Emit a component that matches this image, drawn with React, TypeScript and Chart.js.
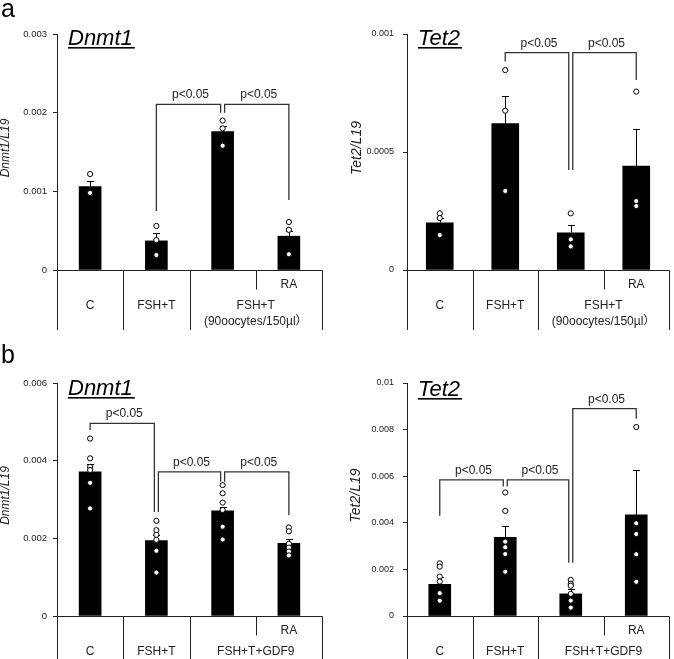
import React, { useEffect, useRef } from 'react';
import { Chart, registerables } from 'chart.js';

Chart.register(...registerables);
Chart.defaults.font.family = '"Liberation Sans", Arial, sans-serif';

// ---------- data ----------
const categoriesA = ['C', 'FSH+T', 'FSH+T (90oocytes/150µl)', 'RA'];
const categoriesB = ['C', 'FSH+T', 'FSH+T+GDF9', 'RA'];
const groupLabelA = ['FSH+T', '(90oocytes/150µl）'];
const groupLabelB = ['FSH+T+GDF9'];
const pLabel = 'p<0.05';

// a – Dnmt1
const aDnmt1Means = [0.00106, 0.00037, 0.00176, 0.00043];
const aDnmt1SE = [0.00007, 0.0001, 0.00007, 0.00006];
const aDnmt1Points = [
  [0.00122, 0.00098, 0.00098],
  [0.00056, 0.00038, 0.00019],
  [0.0019, 0.0018, 0.00158],
  [0.00061, 0.00051, 0.0002],
];
const aDnmt1Ticks = ['0', '0.001', '0.002', '0.003'];
// [from, to, top, leftLegEnd, rightLegEnd]
const aDnmt1Brackets = [
  [1, 2, 0.002106, 0.00075, 0.002],
  [2, 3, 0.002106, 0.002, 0.00089],
];

// a – Tet2
const aTet2Means = [0.0002, 0.00062, 0.000158, 0.00044];
const aTet2SE = [0.00002, 0.000118, 0.000032, 0.000156];
const aTet2Points = [
  [0.00024, 0.00022, 0.000148],
  [0.000847, 0.000675, 0.000335],
  [0.00024, 0.00013, 0.0001],
  [0.000756, 0.000292, 0.000271],
];
const aTet2Ticks = ['0', '0.0005', '0.001'];
const aTet2Brackets = [
  [1, 2, 0.000921, 0.000883, 0.000424],
  [2, 3, 0.000921, 0.000424, 0.000805],
];

// b – Dnmt1
const bDnmt1Means = [0.003715, 0.00194, 0.00271, 0.00187];
const bDnmt1SE = [0.00019, 0.00014, 0.0001, 0.0001];
const bDnmt1Points = [
  [0.00457, 0.00406, 0.00384, 0.00376, 0.00343, 0.00277],
  [0.00245, 0.00221, 0.00209, 0.00196, 0.00168, 0.00112],
  [0.00337, 0.00316, 0.00292, 0.00273, 0.0023, 0.00197],
  [0.00228, 0.00218, 0.00186, 0.00176, 0.00166, 0.00156],
];
const bDnmt1Ticks = ['0', '0.002', '0.004', '0.006'];
const bDnmt1Brackets = [
  [0, 1, 0.00496, 0.00479, 0.00268],
  [1, 2, 0.00371, 0.00268, 0.00346],
  [2, 3, 0.00371, 0.00346, 0.0026],
];

// b – Tet2
const bTet2Means = [0.00136, 0.00338, 0.00095, 0.00434];
const bTet2SE = [0.0003, 0.0005, 0.0002, 0.00193];
const bTet2Points = [
  [0.00226, 0.00212, 0.00169, 0.00148, 0.00098, 0.00066],
  [0.0053, 0.00451, 0.00319, 0.00295, 0.00266, 0.0019],
  [0.00155, 0.00138, 0.0013, 0.00095, 0.00066, 0.00036],
  [0.00811, 0.00398, 0.00352, 0.00265, 0.00147],
];
const bTet2Ticks = ['0', '0.002', '0.004', '0.006', '0.008', '0.01'];
const bTet2Brackets = [
  [0, 1, 0.00584, 0.0043, 0.00556],
  [1, 2, 0.00584, 0.00556, 0.00229],
  [2, 3, 0.0089, 0.00229, 0.00847],
];

// ---------- panels ----------
type Panel = {
  key: string;
  letter?: string;
  letterY?: number;
  gene: string;
  geneY: number;
  yTitle: string;
  yTitleSize: number;
  yTitleX: number;
  categories: string[];
  groupLabel: string[];
  means: number[];
  se: number[];
  points: number[][];
  ticks: string[];
  tickSize: number;
  tickPad: number;
  max: number;
  step: number;
  brackets: number[][];
  barWidth: number;
  left: number;
  top: number;
  width: number;
  height: number;
  areaLeft: number;
  areaTop: number;
  areaRight: number;
  areaBottom: number;
};

const panels: Panel[] = [
  {
    key: 'a1', letter: 'a', letterY: 17, gene: 'Dnmt1', geneY: 45, yTitle: 'Dnmt1/L19', yTitleSize: 12, yTitleX: 6,
    categories: categoriesA, groupLabel: groupLabelA,
    means: aDnmt1Means, se: aDnmt1SE, points: aDnmt1Points, ticks: aDnmt1Ticks, tickSize: 9.5, tickPad: 6,
    max: 0.003, step: 0.001, brackets: aDnmt1Brackets, barWidth: 22,
    left: 0, top: 0, width: 337, height: 330, areaLeft: 57, areaTop: 34, areaRight: 322, areaBottom: 270,
  },
  {
    key: 'a2', gene: 'Tet2', geneY: 45, yTitle: 'Tet2/L19', yTitleSize: 14, yTitleX: 20,
    categories: categoriesA, groupLabel: groupLabelA,
    means: aTet2Means, se: aTet2SE, points: aTet2Points, ticks: aTet2Ticks, tickSize: 9, tickPad: 9,
    max: 0.001, step: 0.0005, brackets: aTet2Brackets, barWidth: 27,
    left: 337, top: 0, width: 337, height: 330, areaLeft: 70, areaTop: 34, areaRight: 334, areaBottom: 270,
  },
  {
    key: 'b1', letter: 'b', letterY: 33, gene: 'Dnmt1', geneY: 65, yTitle: 'Dnmt1/L19', yTitleSize: 12, yTitleX: 6,
    categories: categoriesB, groupLabel: groupLabelB,
    means: bDnmt1Means, se: bDnmt1SE, points: bDnmt1Points, ticks: bDnmt1Ticks, tickSize: 9.5, tickPad: 6,
    max: 0.006, step: 0.002, brackets: bDnmt1Brackets, barWidth: 22,
    left: 0, top: 330, width: 337, height: 329, areaLeft: 57, areaTop: 53, areaRight: 322, areaBottom: 286,
  },
  {
    key: 'b2', gene: 'Tet2', geneY: 66, yTitle: 'Tet2/L19', yTitleSize: 14, yTitleX: 19,
    categories: categoriesB, groupLabel: groupLabelB,
    means: bTet2Means, se: bTet2SE, points: bTet2Points, ticks: bTet2Ticks, tickSize: 9, tickPad: 9,
    max: 0.01, step: 0.002, brackets: bTet2Brackets, barWidth: 22,
    left: 337, top: 330, width: 337, height: 329, areaLeft: 70, areaTop: 53, areaRight: 335, areaBottom: 286,
  },
];

const FONT = '"Liberation Sans", Arial, "Noto Sans CJK JP", sans-serif';
const INK = '#222';

function makePlugin(p: Panel) {
  return {
    id: 'deco_' + p.key,
    afterDatasetDraw(chart: any, args: any) {
      if (args.index !== 0) return;
      const ctx = chart.ctx;
      const xs = chart.scales.x;
      const ys = chart.scales.y;
      ctx.save();
      ctx.strokeStyle = '#000';
      ctx.lineWidth = 1;
      p.means.forEach((m, i) => {
        const x = Math.round(xs.getPixelForValue(i)) + 0.5;
        const y0 = ys.getPixelForValue(m);
        const y1 = Math.round(ys.getPixelForValue(m + p.se[i])) + 0.5;
        ctx.beginPath();
        ctx.moveTo(x, y0);
        ctx.lineTo(x, y1);
        ctx.moveTo(x - 3.5, y1);
        ctx.lineTo(x + 3.5, y1);
        ctx.stroke();
      });
      ctx.restore();
    },
    afterDraw(chart: any) {
      const ctx = chart.ctx;
      const xs = chart.scales.x;
      const ys = chart.scales.y;
      const { left, right, top, bottom } = chart.chartArea;
      const H = chart.height;
      const slot = (right - left) / 4;
      ctx.save();

      // table under the axis
      ctx.strokeStyle = INK;
      ctx.lineWidth = 1;
      const B = Math.round(bottom) + 0.5;
      ctx.beginPath();
      ctx.moveTo(Math.round(left) + 0.5, B);
      ctx.lineTo(Math.round(right) + 0.5, B);
      [0, 1, 2, 4].forEach((k) => {
        const x = Math.round(left + slot * k) + 0.5;
        ctx.moveTo(x, B);
        ctx.lineTo(x, H);
      });
      const xs3 = Math.round(left + slot * 3) + 0.5;
      ctx.moveTo(xs3, B);
      ctx.lineTo(xs3, B + 19);
      ctx.stroke();

      ctx.fillStyle = INK;
      ctx.font = '12px ' + FONT;
      ctx.textAlign = 'center';
      ctx.textBaseline = 'middle';
      ctx.fillText('RA', left + slot * 3.5, bottom + 15);
      const row2 = bottom + 35.5;
      ctx.fillText(p.categories[0], left + slot * 0.5, row2);
      ctx.fillText(p.categories[1], left + slot * 1.5, row2);
      p.groupLabel.forEach((t, j) => ctx.fillText(t, left + slot * 3, row2 + j * 16));

      // significance brackets
      ctx.strokeStyle = '#333';
      ctx.lineWidth = 1.3;
      ctx.textBaseline = 'alphabetic';
      p.brackets.forEach((br) => {
        const [a, b, t, lb, rb] = br;
        const sharedLeft = p.brackets.some((o) => o !== br && o[1] === a);
        const sharedRight = p.brackets.some((o) => o !== br && o[0] === b);
        const x1 = xs.getPixelForValue(a) + (sharedLeft ? 2 : 0);
        const x2 = xs.getPixelForValue(b) - (sharedRight ? 2 : 0);
        const yT = ys.getPixelForValue(t);
        ctx.beginPath();
        ctx.moveTo(x1, ys.getPixelForValue(lb));
        ctx.lineTo(x1, yT);
        ctx.lineTo(x2, yT);
        ctx.lineTo(x2, ys.getPixelForValue(rb));
        ctx.stroke();
        ctx.fillText(pLabel, (x1 + x2) / 2 + 2, yT - 6);
      });

      // gene title, underlined italic
      ctx.font = 'italic 22px ' + FONT;
      ctx.textAlign = 'left';
      ctx.fillStyle = '#000';
      const gx = left + 11;
      ctx.fillText(p.gene, gx, p.geneY);
      const gw = ctx.measureText(p.gene).width;
      ctx.fillRect(gx, p.geneY + 2, gw + 2, 1.6);

      // y-axis title
      ctx.save();
      ctx.translate(p.yTitleX, (top + bottom) / 2 - 4);
      ctx.rotate(-Math.PI / 2);
      ctx.font = 'italic ' + p.yTitleSize + 'px ' + FONT;
      ctx.textAlign = 'center';
      ctx.textBaseline = 'middle';
      ctx.fillStyle = INK;
      ctx.fillText(p.yTitle, 0, 0);
      ctx.restore();

      // panel letter
      if (p.letter) {
        ctx.font = '25px ' + FONT;
        ctx.textAlign = 'left';
        ctx.fillStyle = '#000';
        ctx.fillText(p.letter, 1, p.letterY);
      }
      ctx.restore();
    },
  };
}

function PanelChart({ p }: { p: Panel }) {
  const ref = useRef<HTMLCanvasElement | null>(null);
  useEffect(() => {
    if (!ref.current) return;
    const pts = p.points.flatMap((arr, i) => arr.map((y) => ({ x: p.categories[i], y })));
    const chart = new Chart(ref.current, {
      type: 'bar',
      data: {
        labels: p.categories,
        datasets: [
          {
            type: 'bar',
            data: p.means,
            backgroundColor: '#000',
            borderWidth: 0,
            barThickness: p.barWidth,
            order: 2,
          } as any,
          {
            type: 'scatter',
            data: pts,
            pointRadius: 2.6,
            pointBackgroundColor: '#fff',
            pointBorderColor: '#000',
            pointBorderWidth: 1,
            order: 1,
          } as any,
        ],
      },
      options: {
        responsive: false,
        animation: false,
        events: [],
        layout: {
          padding: {
            left: 0,
            top: p.areaTop,
            right: p.width - p.areaRight,
            bottom: p.height - p.areaBottom,
          },
        },
        plugins: { legend: { display: false }, tooltip: { enabled: false } },
        scales: {
          x: { type: 'category', display: false, offset: true },
          y: {
            min: 0,
            max: p.max,
            ticks: {
              stepSize: p.step,
              callback: (_v: any, i: number) => p.ticks[i],
              font: { size: p.tickSize, family: FONT },
              color: INK,
              padding: p.tickPad,
            },
            grid: { drawOnChartArea: false, tickLength: 4, color: INK },
            border: { color: INK, width: 1 },
            afterFit: (s: any) => {
              s.width = p.areaLeft;
            },
          },
        },
      } as any,
      plugins: [makePlugin(p)],
    });
    return () => chart.destroy();
  }, []);
  return (
    <canvas
      ref={ref}
      width={p.width}
      height={p.height}
      style={{ position: 'absolute', left: p.left, top: p.top, width: p.width, height: p.height }}
    />
  );
}

export default function App() {
  useEffect(() => {
    document.body.style.margin = '0';
    document.body.style.background = '#fff';
  }, []);
  return (
    <div style={{ position: 'relative', width: 674, height: 659, background: '#fff', overflow: 'hidden' }}>
      {panels.map((p) => (
        <PanelChart key={p.key} p={p} />
      ))}
    </div>
  );
}
